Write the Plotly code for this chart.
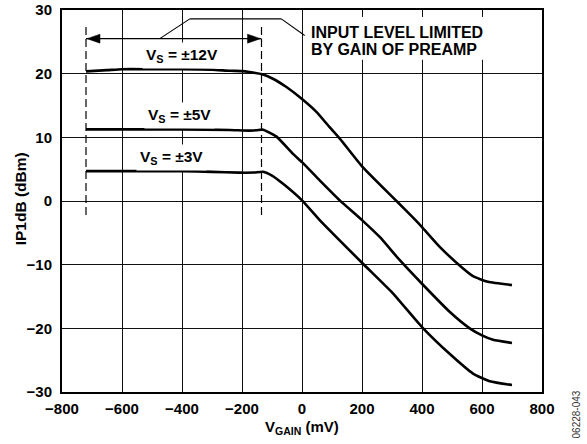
import plotly.graph_objects as go

# ---- data ----
x_12v = [-720, -650, -600, -500, -400, -300, -240, -200, -175, -133, -97, -52, -2, 48, 92, 126, 200, 315, 376, 400, 459, 537, 570, 620, 700]
y_12v = [20.36, 20.55, 20.7, 20.7, 20.7, 20.62, 20.45, 20.4, 20.25, 19.9, 19.2, 17.9, 16.1, 14.0, 11.6, 9.8, 5.45, 0.0, -2.9, -4.1, -7.2, -10.6, -11.8, -12.7, -13.2]

x_5v = [-720, -400, -241, -174, -150, -130, -86, -30, 0, 59, 126, 200, 259, 326, 400, 492, 559, 600, 637, 700]
y_5v = [11.25, 11.25, 11.15, 11.05, 11.12, 11.2, 10.15, 7.4, 6.1, 3.25, 0.1, -3.0, -5.65, -9.3, -13.0, -17.4, -20.0, -21.1, -21.8, -22.3]

x_3v = [-720, -400, -300, -208, -160, -130, -100, -63, 0, 59, 200, 303, 400, 492, 570, 626, 700]
y_3v = [4.7, 4.7, 4.58, 4.45, 4.47, 4.6, 4.0, 2.7, 0.1, -3.0, -9.7, -14.5, -19.8, -24.0, -27.1, -28.3, -28.9]

series_labels = ["V<sub>S</sub> = ±12V", "V<sub>S</sub> = ±5V", "V<sub>S</sub> = ±3V"]
label_x = [-400, -408, -435]
label_y = [22.9, 13.45, 6.9]

x_ticks = [-800, -600, -400, -200, 0, 200, 400, 600, 800]
y_ticks = [-30, -20, -10, 0, 10, 20, 30]

# annotation geometry (data units)
limit_x = [-720, -135]          # dashed limit lines
limit_y = [-2.2, 27.7]
arrow_y = 25.5
leader_x = [-474, -374, -69, 9]
leader_y = [25.5, 28.6, 28.6, 26.0]
note_lines = ["INPUT LEVEL LIMITED", "BY GAIN OF PREAMP"]
note_x = 22
note_y = [26.5, 23.85]
note_box_x = [20, 615]
note_box_y = [22.2, 28.9]

FONT = "Liberation Sans, Arial, sans-serif"

fig = go.Figure()
for xs, ys in [(x_12v, y_12v), (x_5v, y_5v), (x_3v, y_3v)]:
    fig.add_trace(go.Scatter(x=xs, y=ys, mode="lines",
                             line=dict(color="black", width=2.6, shape="spline", smoothing=0.5),
                             showlegend=False, hoverinfo="skip"))

shapes = []
# white background behind the note text (hides grid lines)
shapes.append(dict(type="rect", xref="x", yref="y", layer="above",
                   x0=note_box_x[0], x1=note_box_x[1], y0=note_box_y[0], y1=note_box_y[1],
                   fillcolor="white", line=dict(width=0)))
for xv in limit_x:
    shapes.append(dict(type="line", xref="x", yref="y", x0=xv, x1=xv, y0=limit_y[0], y1=limit_y[1],
                       line=dict(color="black", width=1.2, dash="8px,4px")))
shapes.append(dict(type="line", xref="x", yref="y", x0=limit_x[0], x1=limit_x[1], y0=arrow_y, y1=arrow_y,
                   line=dict(color="black", width=1.3)))
# arrow heads (pixel-sized triangles anchored at the dashed lines)
shapes.append(dict(type="path", xref="x", yref="y", xsizemode="pixel", ysizemode="pixel",
                   xanchor=limit_x[0], yanchor=arrow_y, path="M1,0 L14,4.5 L14,-4.5 Z",
                   fillcolor="black", line=dict(color="black", width=0.5)))
shapes.append(dict(type="path", xref="x", yref="y", xsizemode="pixel", ysizemode="pixel",
                   xanchor=limit_x[1], yanchor=arrow_y, path="M-1,0 L-14,4.5 L-14,-4.5 Z",
                   fillcolor="black", line=dict(color="black", width=0.5)))
for i in range(len(leader_x) - 1):
    shapes.append(dict(type="line", xref="x", yref="y", x0=leader_x[i], x1=leader_x[i + 1],
                       y0=leader_y[i], y1=leader_y[i + 1], line=dict(color="black", width=1.1)))

annotations = []
for t, xv, yv in zip(series_labels, label_x, label_y):
    annotations.append(dict(x=xv, y=yv, xref="x", yref="y", text=t, showarrow=False,
                            font=dict(family=FONT, size=15.5, color="black", weight="bold"),
                            bgcolor="white", borderpad=3))
for t, yv in zip(note_lines, note_y):
    annotations.append(dict(x=note_x, y=yv, xref="x", yref="y", text=t, showarrow=False,
                            xanchor="left", yanchor="middle",
                            font=dict(family=FONT, size=16, color="black", weight="bold")))
# axis titles
annotations.append(dict(x=-0.087, y=0.505, xref="paper", yref="paper", text="IP1dB (dBm)",
                        textangle=-90, showarrow=False, xanchor="center", yanchor="middle",
                        font=dict(family=FONT, size=15.5, color="black", weight="bold")))
annotations.append(dict(x=0.5, y=-0.094, xref="paper", yref="paper", text="V<sub>GAIN</sub> (mV)",
                        showarrow=False, xanchor="center", yanchor="middle",
                        font=dict(family=FONT, size=15, color="black", weight="bold")))
annotations.append(dict(x=1.072, y=-0.06, xref="paper", yref="paper", text="06228-043",
                        textangle=-90, showarrow=False, xanchor="center", yanchor="middle",
                        font=dict(family=FONT, size=10, color="#333333")))

axis_common = dict(showgrid=True, gridcolor="#111111", gridwidth=1.3, zeroline=False,
                   showline=True, mirror=True, linecolor="black", linewidth=2,
                   ticks="outside", tickcolor="rgba(0,0,0,0)", automargin=False,
                   ticklabeloverflow="allow",
                   tickfont=dict(family=FONT, size=15, color="black", weight="bold"))

fig.update_layout(
    width=587, height=444,
    margin=dict(l=62, r=45, t=10, b=52, autoexpand=False),
    paper_bgcolor="white", plot_bgcolor="white",
    xaxis=dict(range=[-800, 800], tickvals=x_ticks, ticklen=2, **axis_common),
    yaxis=dict(range=[-30, 30], tickvals=y_ticks, ticklen=5, **axis_common),
    shapes=shapes, annotations=annotations, showlegend=False,
)

# remove the default 8px page margin so the figure fills the window exactly
fig.write_html("out.html", config={"displayModeBar": False},
               post_script="document.body.style.margin='0';")
